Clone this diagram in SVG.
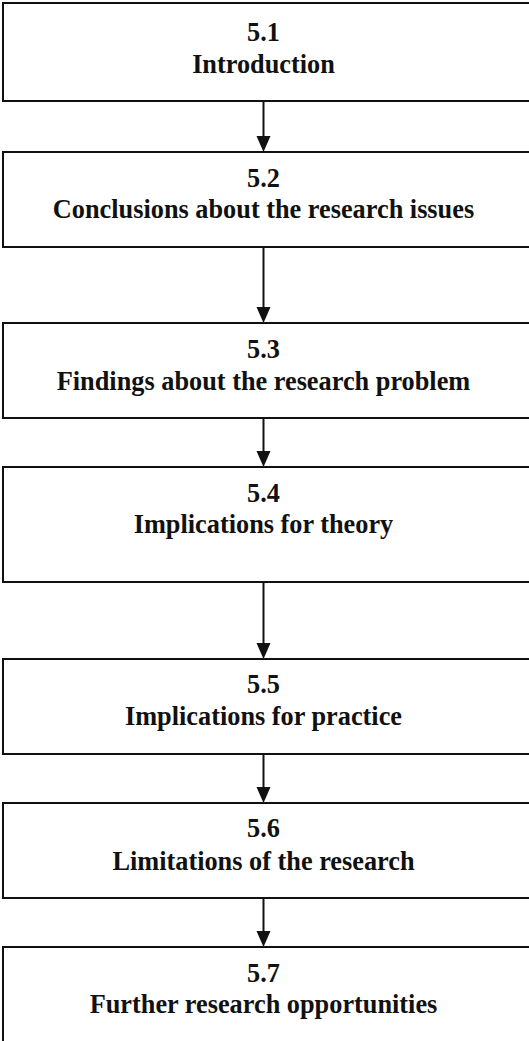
<svg xmlns="http://www.w3.org/2000/svg" width="529" height="1041" viewBox="0 0 529 1041">
  <style>
    .box { fill: #ffffff; stroke: #111111; stroke-width: 2; }
    .lbl { font-family: "Liberation Serif", "Times New Roman", serif; font-weight: bold; font-size: 26.3px; fill: #111111; text-anchor: middle; }
    .conn { stroke: #111111; stroke-width: 2; fill: none; }
    .head { fill: #111111; }
  </style>
  <rect width="529" height="1041" fill="#ffffff"/>

  <g id="connectors">
    <line class="conn" x1="263.5" y1="101" x2="263.5" y2="137"/>
    <polygon class="head" points="256.5,136 270.5,136 263.5,152"/>
    <line class="conn" x1="263.5" y1="247" x2="263.5" y2="308"/>
    <polygon class="head" points="256.5,307 270.5,307 263.5,323"/>
    <line class="conn" x1="263.5" y1="418" x2="263.5" y2="452"/>
    <polygon class="head" points="256.5,451 270.5,451 263.5,467"/>
    <line class="conn" x1="263.5" y1="582" x2="263.5" y2="644"/>
    <polygon class="head" points="256.5,643 270.5,643 263.5,659"/>
    <line class="conn" x1="263.5" y1="754" x2="263.5" y2="788"/>
    <polygon class="head" points="256.5,787 270.5,787 263.5,803"/>
    <line class="conn" x1="263.5" y1="898" x2="263.5" y2="932"/>
    <polygon class="head" points="256.5,931 270.5,931 263.5,947"/>
  </g>

  <g id="node-5-1">
    <rect class="box" x="3" y="3" width="540" height="98"/>
    <text class="lbl" x="263.5" y="41">5.1</text>
    <text class="lbl" x="263.5" y="72.7">Introduction</text>
  </g>
  <g id="node-5-2">
    <rect class="box" x="3" y="152" width="540" height="95"/>
    <text class="lbl" x="263.5" y="187.3">5.2</text>
    <text class="lbl" x="263.5" y="218.3">Conclusions about the research issues</text>
  </g>
  <g id="node-5-3">
    <rect class="box" x="3" y="323" width="540" height="95"/>
    <text class="lbl" x="263.5" y="358.3">5.3</text>
    <text class="lbl" x="263.5" y="390">Findings about the research problem</text>
  </g>
  <g id="node-5-4">
    <rect class="box" x="3" y="467" width="540" height="115"/>
    <text class="lbl" x="263.5" y="501.7">5.4</text>
    <text class="lbl" x="263.5" y="533.3">Implications for theory</text>
  </g>
  <g id="node-5-5">
    <rect class="box" x="3" y="659" width="540" height="95"/>
    <text class="lbl" x="263.5" y="693.3">5.5</text>
    <text class="lbl" x="263.5" y="725">Implications for practice</text>
  </g>
  <g id="node-5-6">
    <rect class="box" x="3" y="803" width="540" height="95"/>
    <text class="lbl" x="263.5" y="836.7">5.6</text>
    <text class="lbl" x="263.5" y="870">Limitations of the research</text>
  </g>
  <g id="node-5-7">
    <rect class="box" x="3" y="947" width="540" height="110"/>
    <text class="lbl" x="263.5" y="981.7">5.7</text>
    <text class="lbl" x="263.5" y="1013.3">Further research opportunities</text>
  </g>
</svg>
